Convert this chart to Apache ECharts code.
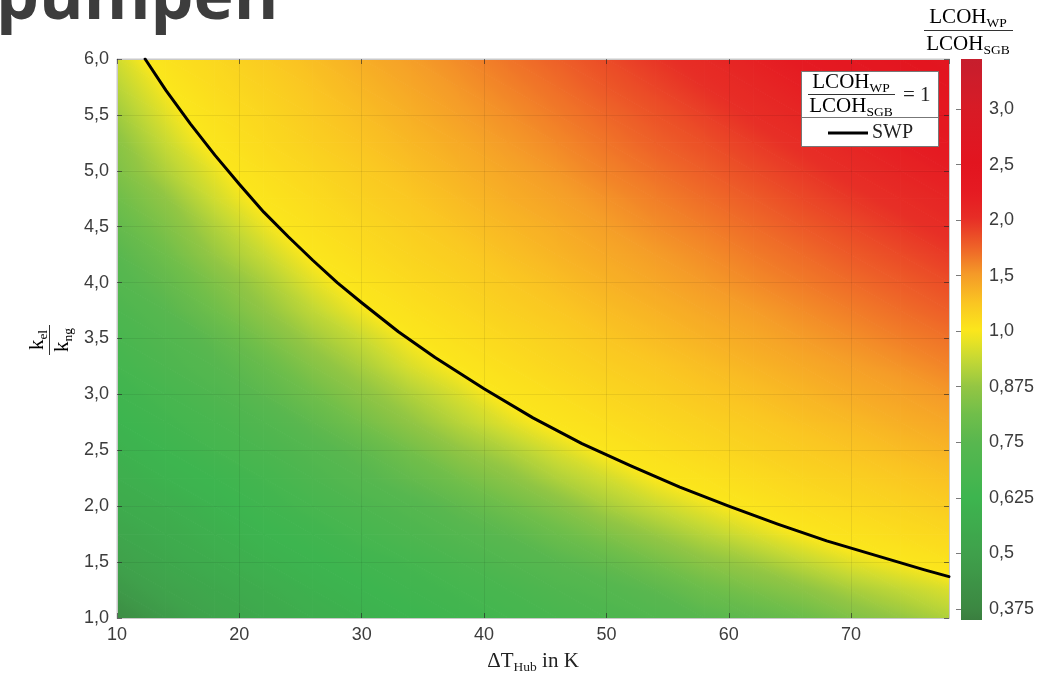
<!DOCTYPE html>
<html><head><meta charset="utf-8">
<script src="https://cdn.jsdelivr.net/npm/echarts@6/dist/echarts.min.js"></script>
<style>html,body{margin:0;padding:0;background:#fff}#c{width:1059px;height:679px}</style>
</head><body><div id="c"></div>
<script>
// ---------- data ----------
const xNodes = [10,14,18,22,26,30,34,38,42,46,50,54,58,62,66,70,74,78];
const yNodes = [1.0,1.25,1.5,1.75,2.0,2.25,2.5,2.75,3.0,3.25,3.5,3.75,4.0,4.25,4.5,4.75,5.0,5.25,5.5,5.75,6.0];
// LCOH_WP / LCOH_SGB at each grid node; one row per y node (bottom -> top)
const ratioGrid = [
[0.40,0.47,0.52,0.55,0.58,0.60,0.62,0.64,0.66,0.68,0.70,0.72,0.75,0.77,0.80,0.84,0.875,0.91],
[0.46,0.51,0.54,0.57,0.60,0.62,0.64,0.66,0.68,0.71,0.73,0.76,0.80,0.83,0.86,0.90,0.93,0.96],
[0.50,0.54,0.57,0.60,0.62,0.64,0.66,0.69,0.72,0.75,0.78,0.82,0.86,0.89,0.93,0.97,1.00,1.04],
[0.53,0.56,0.59,0.62,0.64,0.67,0.70,0.73,0.76,0.80,0.84,0.88,0.92,0.96,1.00,1.04,1.08,1.12],
[0.56,0.58,0.61,0.64,0.67,0.70,0.73,0.77,0.81,0.85,0.90,0.94,0.98,1.02,1.07,1.11,1.15,1.20],
[0.58,0.61,0.63,0.66,0.70,0.74,0.78,0.82,0.86,0.91,0.95,1.00,1.04,1.09,1.14,1.18,1.23,1.28],
[0.60,0.63,0.66,0.69,0.73,0.77,0.82,0.87,0.91,0.96,1.01,1.06,1.11,1.16,1.21,1.26,1.31,1.36],
[0.62,0.65,0.68,0.72,0.77,0.82,0.87,0.92,0.97,1.02,1.07,1.12,1.17,1.22,1.28,1.33,1.39,1.44],
[0.64,0.67,0.71,0.76,0.81,0.86,0.91,0.96,1.02,1.07,1.13,1.18,1.24,1.29,1.35,1.41,1.46,1.52],
[0.66,0.70,0.74,0.79,0.85,0.90,0.96,1.01,1.07,1.13,1.19,1.24,1.30,1.36,1.42,1.48,1.54,1.61],
[0.68,0.72,0.77,0.83,0.89,0.94,1.00,1.06,1.12,1.18,1.25,1.31,1.37,1.43,1.50,1.56,1.63,1.69],
[0.70,0.75,0.81,0.87,0.93,0.99,1.05,1.11,1.18,1.24,1.31,1.37,1.44,1.50,1.57,1.64,1.71,1.78],
[0.73,0.78,0.84,0.90,0.97,1.03,1.10,1.16,1.23,1.30,1.37,1.44,1.51,1.58,1.65,1.72,1.79,1.86],
[0.75,0.81,0.88,0.94,1.01,1.08,1.15,1.21,1.29,1.36,1.43,1.50,1.57,1.65,1.72,1.80,1.87,1.95],
[0.78,0.84,0.91,0.98,1.05,1.12,1.19,1.27,1.34,1.41,1.49,1.57,1.64,1.72,1.80,1.88,1.96,2.04],
[0.81,0.87,0.95,1.02,1.09,1.17,1.24,1.32,1.40,1.47,1.55,1.63,1.71,1.79,1.88,1.96,2.04,2.12],
[0.84,0.91,0.98,1.06,1.13,1.21,1.29,1.37,1.45,1.53,1.62,1.70,1.78,1.87,1.95,2.04,2.13,2.21],
[0.86,0.94,1.02,1.10,1.18,1.26,1.34,1.42,1.51,1.59,1.68,1.77,1.85,1.94,2.03,2.12,2.21,2.30],
[0.89,0.97,1.05,1.13,1.22,1.30,1.39,1.48,1.56,1.65,1.74,1.83,1.92,2.02,2.11,2.20,2.30,2.39],
[0.92,1.00,1.09,1.17,1.26,1.35,1.44,1.53,1.62,1.71,1.81,1.90,2.00,2.09,2.19,2.29,2.39,2.48],
[0.95,1.04,1.12,1.21,1.30,1.40,1.49,1.58,1.68,1.77,1.87,1.97,2.07,2.17,2.27,2.37,2.47,2.58]
];
// SWP curve (LCOH_WP / LCOH_SGB = 1)
const swpX = [12.3,14,16,18,20,22,24,26,28,30,33,36,40,44,48,52,56,60,64,68,72,76,78];
const swpY = [6.00,5.72,5.42,5.14,4.88,4.63,4.41,4.20,4.00,3.82,3.56,3.33,3.05,2.79,2.56,2.36,2.17,2.00,1.84,1.69,1.56,1.43,1.37];
// tick labels
const yTickValues = [1,1.5,2,2.5,3,3.5,4,4.5,5,5.5,6];
const yTickLabels = ['1,0','1,5','2,0','2,5','3,0','3,5','4,0','4,5','5,0','5,5','6,0'];
const cbTickValues = [0.375,0.5,0.625,0.75,0.875,1.0,1.5,2.0,2.5,3.0];
const cbTickLabels = ['0,375','0,5','0,625','0,75','0,875','1,0','1,5','2,0','2,5','3,0'];

// ---------- styling helpers ----------
const cbMin = -0.2, cbMax = 9.9; // colorbar extent in tick-slot units
const barColorStops = [[-0.5,'#37713b'],[0,'#3c8742'],[1,'#3fa14b'],[2,'#3db54f'],[3,'#58b74f'],[3.5,'#70be4a'],[4,'#93c643'],[4.5,'#c6d934'],[5,'#fbe71c'],[5.5,'#fac622'],[6,'#f59d28'],[6.5,'#ee6428'],[7,'#e72f26'],[7.5,'#e51a22'],[8,'#e3151f'],[9,'#d81b26'],[10,'#c41e2e']];
function hexToRgb(h){return [parseInt(h.slice(1,3),16),parseInt(h.slice(3,5),16),parseInt(h.slice(5,7),16)];}
function colorAt(p){
  if (p <= barColorStops[0][0]) return barColorStops[0][1];
  for (let i=0;i<barColorStops.length-1;i++){
    const p0=barColorStops[i][0], p1=barColorStops[i+1][0];
    if (p <= p1){
      const t=(p-p0)/(p1-p0), a=hexToRgb(barColorStops[i][1]), b=hexToRgb(barColorStops[i+1][1]);
      return 'rgb('+a.map((v,k)=>Math.round(v+(b[k]-v)*t)).join(',')+')';
    }
  }
  return barColorStops[barColorStops.length-1][1];
}
// position of a ratio on the (non-linear) colour scale
function slotOf(v){
  for (let i=0;i<cbTickValues.length-1;i++){
    if (v <= cbTickValues[i+1]) return i + (v-cbTickValues[i])/(cbTickValues[i+1]-cbTickValues[i]);
  }
  const n=cbTickValues.length;
  return (n-1) + (v-cbTickValues[n-1])/(cbTickValues[n-1]-cbTickValues[n-2]);
}
const ratioColor = v => colorAt(slotOf(v));
const gradStops = [];
for (let k=0;k<=60;k++) gradStops.push({offset:k/60, color:colorAt(cbMin + (cbMax-cbMin)*k/60)});

// one triangle, shaded smoothly between its three corner values (like "interp" shading)
function shadedTriangle(P0,P1,P2,v0,v1,v2){
  const dx1=P1[0]-P0[0], dy1=P1[1]-P0[1], dx2=P2[0]-P0[0], dy2=P2[1]-P0[1];
  const det = dx1*dy2 - dx2*dy1;
  let fill;
  const a = ((v1-v0)*dy2 - (v2-v0)*dy1)/det;
  const b = (dx1*(v2-v0) - dx2*(v1-v0))/det;
  const g = Math.sqrt(a*a+b*b);
  if (!isFinite(g) || g < 1e-9) {
    fill = ratioColor(v0);
  } else {
    const ux=a/g, uy=b/g;
    const s = [0, dx1*ux+dy1*uy, dx2*ux+dy2*uy];
    const sMin=Math.min.apply(null,s), sMax=Math.max.apply(null,s);
    const stops=[];
    const n=6;
    for (let k=0;k<=n;k++){
      const sv = sMin + (sMax-sMin)*k/n;
      stops.push({offset:k/n, color:ratioColor(v0 + g*sv)});
    }
    fill = new echarts.graphic.LinearGradient(P0[0]+ux*sMin, P0[1]+uy*sMin, P0[0]+ux*sMax, P0[1]+uy*sMax, stops, true);
  }
  return {type:'polygon', shape:{points:[P0,P1,P2]}, style:{fill:fill, stroke:fill, lineWidth:1}};
}

const cellData = [];
for (let j=0;j<yNodes.length-1;j++) for (let i=0;i<xNodes.length-1;i++) cellData.push([xNodes[i], yNodes[j], i, j]);
const swpData = swpX.map((x,i)=>[x, swpY[i]]);

const serif = '"Liberation Serif","DejaVu Serif",serif';
const sans = '"Liberation Sans",Arial,sans-serif';
const rich = {
  m:{fontFamily:serif,fontSize:21,lineHeight:26,color:'#222'},
  s:{fontFamily:serif,fontSize:13.5,lineHeight:13,verticalAlign:'bottom',color:'#222'}
};
const tickColor = 'rgba(35,35,35,0.6)';
const frameColor = '#c9c9c9';

const chart = echarts.init(document.getElementById('c'), null, {renderer:'canvas'});
chart.setOption({
  animation:false,
  backgroundColor:'#fff',
  grid:[
    {left:117, top:59, width:832, height:561, show:true, borderColor:frameColor, borderWidth:1},
    {left:961, top:59, width:21, height:561}
  ],
  xAxis:[
    {type:'value', gridIndex:0, min:10, max:78, interval:10, position:'bottom', z:3,
     axisLine:{show:true,lineStyle:{color:frameColor}},
     axisTick:{show:true,inside:true,length:5,lineStyle:{color:tickColor}},
     axisLabel:{fontFamily:sans,fontSize:18,color:'#3c3c3c',margin:8,showMaxLabel:false,formatter:v=>String(v)},
     splitLine:{show:true,lineStyle:{color:'rgba(0,0,0,0.07)'}},
     name:'{m|ΔT}{s|Hub}{m| in K}', nameLocation:'middle', nameGap:30,
     nameTextStyle:{rich:rich}},
    {type:'value', gridIndex:0, min:10, max:78, interval:10, position:'top', z:3,
     axisLine:{show:true,lineStyle:{color:frameColor}},
     axisTick:{show:true,inside:true,length:5,lineStyle:{color:tickColor}},
     axisLabel:{show:false}, splitLine:{show:false}},
    {type:'value', gridIndex:1, min:0, max:1, show:false}
  ],
  yAxis:[
    {type:'value', gridIndex:0, min:1, max:6, interval:0.5, position:'left', z:3,
     axisLine:{show:true,lineStyle:{color:frameColor}},
     axisTick:{show:true,inside:true,length:5,lineStyle:{color:tickColor}},
     axisLabel:{fontFamily:sans,fontSize:18,color:'#3c3c3c',margin:8,
       formatter:v=>{const i=yTickValues.indexOf(v);return i>=0?yTickLabels[i]:'';}},
     splitLine:{show:true,lineStyle:{color:'rgba(0,0,0,0.07)'}}},
    {type:'value', gridIndex:0, min:1, max:6, interval:0.5, position:'right', z:3,
     axisLine:{show:true,lineStyle:{color:frameColor}},
     axisTick:{show:true,inside:true,length:5,lineStyle:{color:tickColor}},
     axisLabel:{show:false}, splitLine:{show:false}},
    {type:'value', gridIndex:1, min:cbMin, max:cbMax, position:'right', z:3,
     axisLine:{show:false},
     axisTick:{show:true,inside:true,length:5,customValues:cbTickValues.map((v,i)=>i),lineStyle:{color:tickColor}},
     axisLabel:{fontFamily:sans,fontSize:18,color:'#3c3c3c',margin:7,customValues:cbTickValues.map((v,i)=>i),
       formatter:v=>cbTickLabels[Math.round(v)]},
     splitLine:{show:false}}
  ],
  series:[
    {type:'custom', xAxisIndex:0, yAxisIndex:0, data:cellData, encode:{x:0,y:1}, silent:true, progressive:0, z:1, clip:true,
     renderItem:function(params, api){
       const i=api.value(2), j=api.value(3);
       const P=(ii,jj)=>api.coord([xNodes[ii], yNodes[jj]]);
       const p00=P(i,j), p10=P(i+1,j), p01=P(i,j+1), p11=P(i+1,j+1);
       const v00=ratioGrid[j][i], v10=ratioGrid[j][i+1], v01=ratioGrid[j+1][i], v11=ratioGrid[j+1][i+1];
       return {type:'group', children:[
         shadedTriangle(p00,p10,p01,v00,v10,v01),
         shadedTriangle(p11,p01,p10,v11,v01,v10)
       ]};
     }},
    {type:'line', xAxisIndex:0, yAxisIndex:0, data:swpData, showSymbol:false, smooth:false,
     lineStyle:{color:'#000',width:3,join:'round',cap:'round'}, silent:true, z:10},
    {type:'custom', xAxisIndex:2, yAxisIndex:2, data:[[0,cbMin]], silent:true,
     renderItem:function(params, api){
       const a=api.coord([0,cbMin]), b=api.coord([1,cbMax]);
       return {type:'rect', shape:{x:a[0],y:b[1],width:b[0]-a[0],height:a[1]-b[1]},
               style:{fill:new echarts.graphic.LinearGradient(0,1,0,0,gradStops)}};
     }}
  ],
  graphic:[
    {type:'text', x:-4, y:0, z:100, style:{text:'pumpen', font:'bold 68px "Open Sans", sans-serif', fill:'#3d3d3d', textVerticalAlign:'middle', verticalAlign:'middle'}},
    // colorbar title
    {type:'text', x:968, y:17, z:100, style:{text:'{m|LCOH}{s|WP}', rich:rich, textAlign:'center', align:'center', textVerticalAlign:'middle', verticalAlign:'middle'}},
    {type:'line', z:100, shape:{x1:924,y1:30.5,x2:1013,y2:30.5}, style:{stroke:'#333',lineWidth:1}},
    {type:'text', x:968, y:44, z:100, style:{text:'{m|LCOH}{s|SGB}', rich:rich, textAlign:'center', align:'center', textVerticalAlign:'middle', verticalAlign:'middle'}},
    // y axis title (rotated fraction)
    {type:'group', x:49, y:340, rotation:Math.PI/2, z:100, children:[
      {type:'text', x:0, y:-12, style:{text:'{m|k}{s|el}', rich:rich, textAlign:'center', align:'center', textVerticalAlign:'middle', verticalAlign:'middle'}},
      {type:'line', shape:{x1:-15,y1:0.5,x2:15,y2:0.5}, style:{stroke:'#333',lineWidth:1}},
      {type:'text', x:0, y:13, style:{text:'{m|k}{s|ng}', rich:rich, textAlign:'center', align:'center', textVerticalAlign:'middle', verticalAlign:'middle'}}
    ]},
    // legend box
    {type:'rect', z:100, shape:{x:801.5,y:71.5,width:137,height:75}, style:{fill:'#fff',stroke:'#777',lineWidth:1}},
    {type:'text', x:851, y:82, z:101, style:{text:'{m|LCOH}{s|WP}', rich:rich, textAlign:'center', align:'center', textVerticalAlign:'middle', verticalAlign:'middle'}},
    {type:'line', z:101, shape:{x1:808,y1:94.5,x2:895,y2:94.5}, style:{stroke:'#333',lineWidth:1}},
    {type:'text', x:851, y:106, z:101, style:{text:'{m|LCOH}{s|SGB}', rich:rich, textAlign:'center', align:'center', textVerticalAlign:'middle', verticalAlign:'middle'}},
    {type:'text', x:903, y:95, z:101, style:{text:'= 1', font:'21px '+serif, fill:'#222', textAlign:'left', align:'left', textVerticalAlign:'middle', verticalAlign:'middle'}},
    {type:'line', z:101, shape:{x1:801.5,y1:117.5,x2:938.5,y2:117.5}, style:{stroke:'#777',lineWidth:1}},
    {type:'line', z:101, shape:{x1:828,y1:133,x2:868,y2:133}, style:{stroke:'#000',lineWidth:3}},
    {type:'text', x:872, y:133, z:101, style:{text:'SWP', font:'20px '+serif, fill:'#222', textAlign:'left', align:'left', textVerticalAlign:'middle', verticalAlign:'middle'}}
  ]
});
</script></body></html>
